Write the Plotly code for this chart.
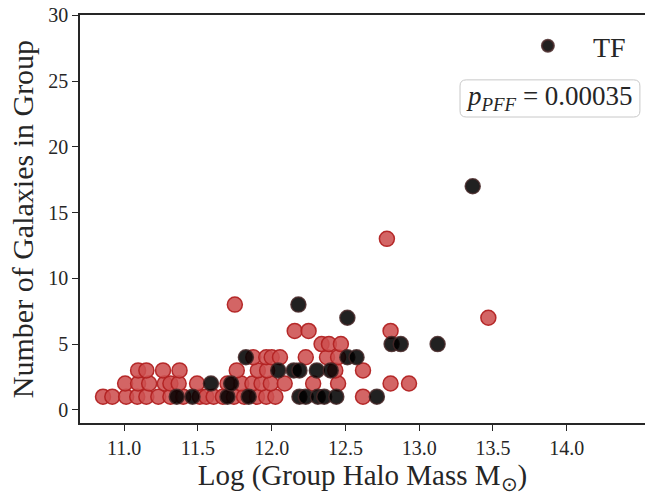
import plotly.graph_objects as go

# Red (non-TF) galaxies groups
red_x = [10.856, 10.919, 11.013, 11.088, 11.150, 11.231, 11.313, 11.400, 11.513, 11.556,
         11.606, 11.669, 11.744, 11.813, 11.900, 11.963, 12.025, 12.619,
         11.006, 11.094, 11.169, 11.275, 11.313, 11.369, 11.494, 11.700, 11.794, 11.869,
         11.931, 11.994, 12.088, 12.281, 12.450, 12.806, 12.931,
         11.094, 11.150, 11.263, 11.375, 11.763, 11.906, 11.969, 12.431, 12.619,
         11.875, 11.963, 12.000, 12.056, 12.231, 12.375, 12.450,
         12.338, 12.388, 12.469,
         12.156, 12.250, 12.806,
         13.469, 11.750, 12.781]
red_y = [1] * 18 + [2] * 17 + [3] * 9 + [4] * 7 + [5] * 3 + [6] * 3 + [7, 8, 13]

# TF galaxies groups
tf_x = [11.356, 11.463, 11.700, 11.844, 12.188, 12.231, 12.313, 12.356, 12.438, 12.713,
        11.588, 11.725,
        12.044, 12.150, 12.188, 12.306, 12.400,
        11.825, 12.513, 12.575,
        12.813, 12.875, 13.125,
        12.513, 12.181, 13.363]
tf_y = [1] * 10 + [2] * 2 + [3] * 5 + [4] * 3 + [5] * 3 + [7, 8, 17]

x_ticks = [11.0, 11.5, 12.0, 12.5, 13.0, 13.5, 14.0]
y_ticks = [0, 5, 10, 15, 20, 25, 30]

font_family = "Liberation Serif"

fig = go.Figure()
fig.add_trace(go.Scatter(
    x=red_x, y=red_y, mode="markers", showlegend=False,
    marker=dict(size=15, color="rgba(205,80,80,0.88)",
                line=dict(color="rgba(178,34,34,0.95)", width=1.5)),
))
fig.add_trace(go.Scatter(
    x=tf_x, y=tf_y, mode="markers", name="TF",
    marker=dict(size=15, color="rgba(0,0,0,0.87)",
                line=dict(color="rgba(70,40,40,0.85)", width=1.5)),
))

axis_common = dict(
    showgrid=False, zeroline=False, showline=True, linecolor="#262626", linewidth=1.5,
    ticks="outside", ticklen=6, tickwidth=1.3, tickcolor="#262626",
    tickfont=dict(family=font_family, size=20, color="#262626"),
    ticklabeloverflow="allow", automargin=False,
)

fig.update_layout(
    width=645, height=495,
    margin=dict(l=80, r=0, t=15, b=72, autoexpand=False),
    paper_bgcolor="white", plot_bgcolor="white",
    font=dict(family=font_family, color="#262626"),
    xaxis=dict(range=[10.7, 14.53125], tickvals=x_ticks,
               ticktext=[f"{v:.1f}" for v in x_ticks], mirror=True,
               title=dict(text="Log (Group Halo Mass M<sub>⊙</sub>)",
                          font=dict(family=font_family, size=29), standoff=6),
               **axis_common),
    yaxis=dict(range=[-1, 30.02], tickvals=y_ticks, mirror=False,
               title=dict(text="Number of Galaxies in Group",
                          font=dict(family=font_family, size=30), standoff=6),
               **axis_common),
    legend=dict(x=0.975, y=0.985, xanchor="right", yanchor="top",
                bgcolor="rgba(0,0,0,0)", font=dict(family=font_family, size=28),
                itemsizing="constant", itemwidth=80),
    showlegend=True,
)

# rounded box behind the p-value text
bx0, bx1, by0, by1 = 0.6726, 0.991, 0.750, 0.841
rx, ry = 0.011, 0.015
box_path = (f"M {bx0+rx},{by1} L {bx1-rx},{by1} Q {bx1},{by1} {bx1},{by1-ry} "
            f"L {bx1},{by0+ry} Q {bx1},{by0} {bx1-rx},{by0} L {bx0+rx},{by0} "
            f"Q {bx0},{by0} {bx0},{by0+ry} L {bx0},{by1-ry} Q {bx0},{by1} {bx0+rx},{by1} Z")
fig.add_shape(type="path", path=box_path, xref="paper", yref="paper",
              line=dict(color="#c8c8c8", width=1), fillcolor="white", layer="above")

fig.add_annotation(
    xref="paper", yref="paper", x=(bx0 + bx1) / 2, y=(by0 + by1) / 2,
    xanchor="center", yanchor="middle",
    text="<i>p</i><sub><i>PFF</i></sub> = 0.00035", showarrow=False,
    font=dict(family=font_family, size=27, color="#262626"),
)

fig.write_html("out.html", config={"displayModeBar": False},
               post_script="document.body.style.margin='0';document.body.style.overflow='hidden';")
